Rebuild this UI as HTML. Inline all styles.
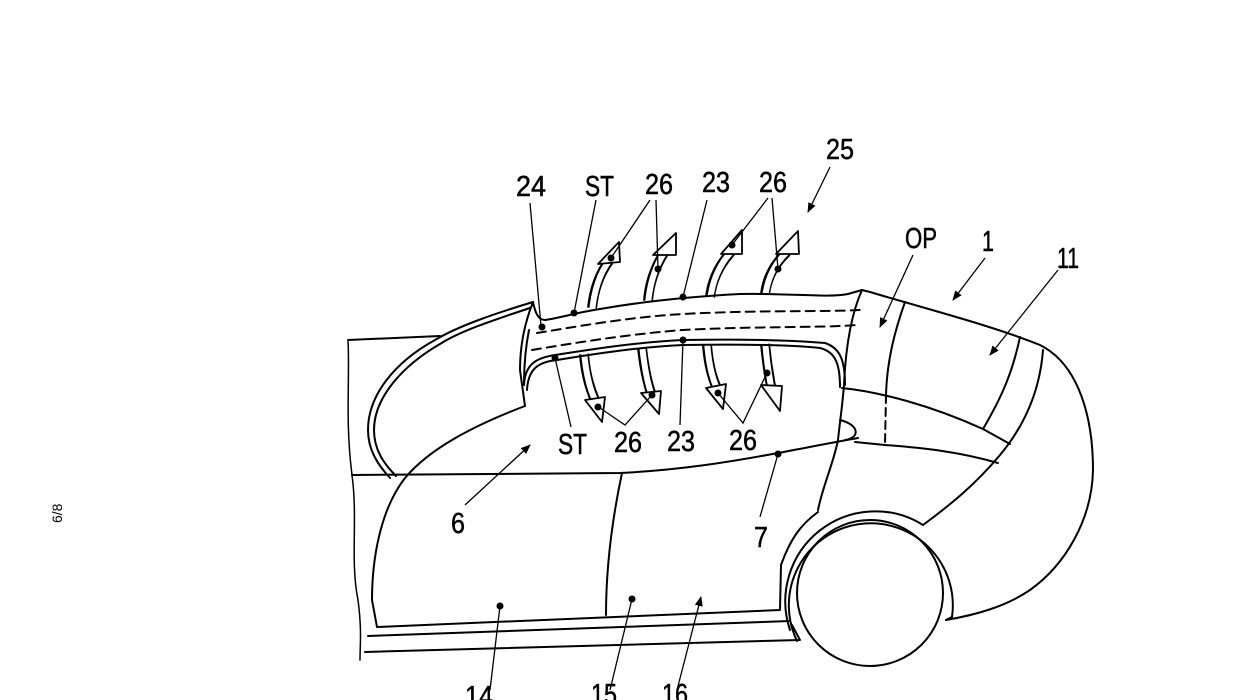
<!DOCTYPE html>
<html><head><meta charset="utf-8"><style>
html,body{margin:0;padding:0;background:#fff;}
svg{display:block;}
text{font-family:"Liberation Sans",sans-serif;font-size:29px;fill:#000;stroke:#000;stroke-width:0.5;}
</style></head><body>
<svg width="1239" height="700" viewBox="0 0 1239 700" xmlns="http://www.w3.org/2000/svg">
<defs>
<marker id="ah" viewBox="0 0 10 10" refX="9" refY="5" markerWidth="10" markerHeight="10" orient="auto" markerUnits="userSpaceOnUse"><path d="M0,1 L10,5 L0,9 Z" fill="#000"/></marker>
</defs>
<!-- hollow arrows (drawn first) -->
<g fill="none" stroke-linecap="butt" stroke-linejoin="miter">
<g stroke="#000" stroke-width="10">
<path d="M592,308 Q595,280 609,261"/>
<path d="M648,301 Q650,275 664,253"/>
<path d="M710,297 Q713,272 731,252"/>
<path d="M765,294 Q768,270 787,252"/>
<path d="M584,354 Q586,380 595,400"/>
<path d="M642,348 Q645,375 651,393"/>
<path d="M707,345 Q709,370 716,386"/>
<path d="M765,344 Q767,365 771,386"/>
</g>
<g stroke="#fff" stroke-width="6">
<path d="M592,312 Q595,280 609,261"/>
<path d="M648,305 Q650,275 664,253"/>
<path d="M710,301 Q713,272 731,252"/>
<path d="M765,298 Q768,270 787,252"/>
<path d="M584,350 Q586,380 595,400"/>
<path d="M642,344 Q645,375 651,393"/>
<path d="M707,341 Q709,370 716,386"/>
<path d="M765,340 Q767,365 771,386"/>
</g>
<g stroke="#000" stroke-width="1.8" fill="#fff" stroke-linejoin="round">
<path d="M598,264 L619,242 L620,262 Z"/>
<path d="M653,255 L676,233 L676,255 Z"/>
<path d="M721,254 L742,230 L742,254 Z"/>
<path d="M776,254 L798,231 L799,254 Z"/>
<path d="M585,400 L602,422 L605,397 Z"/>
<path d="M641,393 L659,414 L661,391 Z"/>
<path d="M706,388 L723,409 L726,384 Z"/>
<path d="M761,385 L780,411 L782,386 Z"/>
</g>
</g>
<g fill="none" stroke="#000" stroke-width="2" stroke-linecap="round" stroke-linejoin="round">
<path d="M348,340 C350,380 345,420 352,475 C358,520 350,560 358,600 C362,630 360,645 360,660" stroke-width="1.5"/>
<path d="M348,340 L440,336"/>
<path d="M533,302 C500,312 460,325 435,340 C395,362 368,395 368,430 C368,450 378,465 390,478"/>
<path d="M530,308 C500,318 462,330 440,344 C402,366 374,398 374,430 C374,450 384,464 396,476"/>
<path d="M525,406 C475,425 430,448 405,478 C380,510 372,560 372,600 L377,627"/>
<path d="M533,302 C525,322 520,345 520,370 L525,406"/>
<path d="M533,302 C535,312 538,320 545,320"/>
<path d="M529,330 C526,345 524,360 524,385"/>
<path d="M545,320 C560,318 574,313 600,309 C640,302 683,297 740,294 C790,293 830,298 848,294 L862,290"/>
<path d="M524,385 C525,365 535,358 555,355 C600,348 640,342 683,340 C740,339 790,340 825,343 C840,348 845,360 845,385"/>
<path d="M527,390 C528,370 537,362 557,360 C600,353 640,347 683,345 C740,344 790,345 820,348 C836,352 840,365 840,387"/>
<path d="M537,333 C580,326 630,317 683,314 C760,310 820,312 860,310" stroke-dasharray="9,6"/>
<path d="M532,350 C580,342 630,334 683,330 C760,326 820,328 857,325" stroke-dasharray="9,6"/>
<path d="M862,290 C853,310 846,340 844,385 C842,410 840,420 838,440 C833,465 823,485 818,510"/>
<path d="M840,420 C860,425 860,438 845,440"/>
<path d="M352,475 L620,473 C680,470 730,462 778,453 C810,447 835,442 858,438"/>
<path d="M622,473 C612,520 606,570 606,615"/>
<path d="M377,627 L780,610 L781,565 C790,540 800,525 818,512"/>
<path d="M368,636 L790,621"/>
<path d="M365,652 L800,640 L792,625"/>
<circle cx="870" cy="593" r="73"/>
<path d="M797,641 A82,82 0 1 1 952,617"/>
<path d="M790,630 A90,90 0 0 1 923,525"/>
<path d="M952,617 L946,620"/>
<path d="M862,290 L870,292 C930,310 990,325 1040,345 C1080,365 1093,420 1093,470 C1092,520 1065,565 1030,590 C1005,607 975,615 946,620"/>
<path d="M923,525 C950,505 975,485 1000,455 C1025,425 1040,390 1043,350"/>
<path d="M1020,337 C1012,375 1000,400 983,429"/>
<path d="M905,302 C895,330 887,360 886,395"/>
<path d="M886,395 L885,445" stroke-dasharray="8,5"/>
<path d="M842,388 C880,392 930,405 983,429 L1010,444"/>
<path d="M855,442 L885,445 C925,448 960,452 998,463"/>
</g>
<g stroke="#000" stroke-width="1.3" fill="none">
<path d="M530,203 L541,326"/>
<path d="M596,200 L574,313"/>
<path d="M707,200 L683,297"/>
<path d="M571,427 L555,358"/>
<path d="M680,425 L683,340"/>
<path d="M650,200 L611,258 M656,200 L658,269"/>
<path d="M768,198 L732,245 M772,198 L778,269"/>
<path d="M600,408 L625,425 L652,395"/>
<path d="M718,393 L743,423 L767,373"/>
<path d="M760,517 L778,454"/>
<path d="M490,690 L500,606"/>
<path d="M610,690 L632,599"/>
<path d="M677,690 L701,597" marker-end="url(#ah)"/>
<path d="M830,167 L808,212" marker-end="url(#ah)"/>
<path d="M913,255 L880,327" marker-end="url(#ah)"/>
<path d="M985,258 L953,300" marker-end="url(#ah)"/>
<path d="M1058,270 L990,355" marker-end="url(#ah)"/>
<path d="M465,505 L530,445" marker-end="url(#ah)"/>
</g>
<g fill="#000">
<circle cx="542" cy="327" r="3.5"/><circle cx="574" cy="313" r="3.5"/><circle cx="683" cy="297" r="3.5"/>
<circle cx="555" cy="358" r="3.5"/><circle cx="683" cy="340" r="3.5"/>
<circle cx="611" cy="258" r="3.5"/><circle cx="658" cy="269" r="3.5"/><circle cx="732" cy="245" r="3.5"/><circle cx="778" cy="269" r="3.5"/>
<circle cx="598" cy="407" r="3.5"/><circle cx="652" cy="395" r="3.5"/><circle cx="718" cy="393" r="3.5"/><circle cx="767" cy="373" r="3.5"/>
<circle cx="778" cy="454" r="3.5"/><circle cx="500" cy="606" r="3.5"/><circle cx="632" cy="599" r="3.5"/>
</g>
<g>
<text x="516" y="196" textLength="30" lengthAdjust="spacingAndGlyphs">24</text>
<text x="585" y="196" textLength="29" lengthAdjust="spacingAndGlyphs">ST</text>
<text x="645" y="194" textLength="28" lengthAdjust="spacingAndGlyphs">26</text>
<text x="702" y="192" textLength="28" lengthAdjust="spacingAndGlyphs">23</text>
<text x="759" y="192" textLength="28" lengthAdjust="spacingAndGlyphs">26</text>
<text x="826" y="159" textLength="28" lengthAdjust="spacingAndGlyphs">25</text>
<text x="905" y="248" textLength="32" lengthAdjust="spacingAndGlyphs">OP</text>
<text x="982" y="251" textLength="12" lengthAdjust="spacingAndGlyphs">1</text>
<text x="1057" y="268" textLength="22" lengthAdjust="spacingAndGlyphs">11</text>
<text x="558" y="454" textLength="29" lengthAdjust="spacingAndGlyphs">ST</text>
<text x="614" y="452" textLength="28" lengthAdjust="spacingAndGlyphs">26</text>
<text x="667" y="451" textLength="28" lengthAdjust="spacingAndGlyphs">23</text>
<text x="729" y="450" textLength="28" lengthAdjust="spacingAndGlyphs">26</text>
<text x="451" y="533" textLength="14" lengthAdjust="spacingAndGlyphs">6</text>
<text x="754" y="547" textLength="14" lengthAdjust="spacingAndGlyphs">7</text>
<text x="465" y="706" textLength="28" lengthAdjust="spacingAndGlyphs">14</text>
<text x="591" y="704" textLength="26" lengthAdjust="spacingAndGlyphs">15</text>
<text x="662" y="704" textLength="26" lengthAdjust="spacingAndGlyphs">16</text>
<text transform="translate(62,523) rotate(-90)" style="font-size:14px;stroke-width:0">6/8</text>
</g>
</svg>
</body></html>
